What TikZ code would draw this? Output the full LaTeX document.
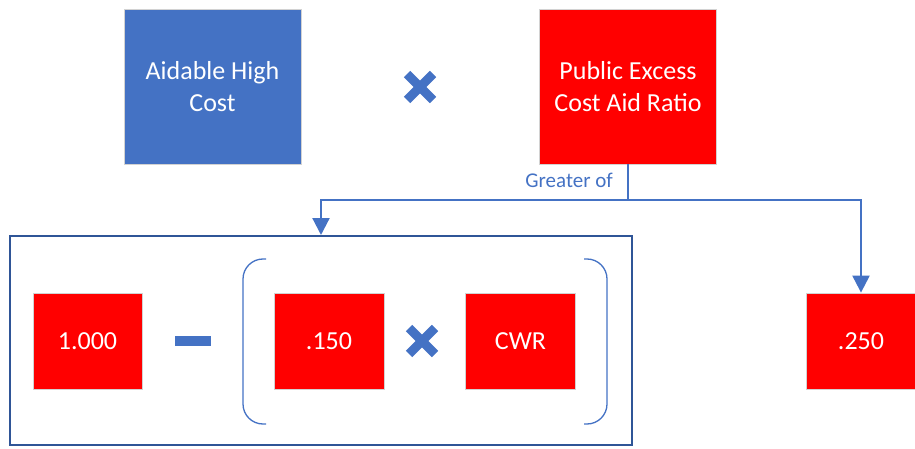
\documentclass[tikz,border=0pt]{standalone}
\usepackage{fontspec}
\setmainfont{Carlito}
\usetikzlibrary{arrows.meta}
\definecolor{obl}{HTML}{4472C4}
\definecolor{dbl}{HTML}{2F5597}
\definecolor{ored}{HTML}{FF0000}
\tikzset{
  redbox/.style={draw=gray!35, line width=0.8pt, fill=ored, text=white, inner sep=0pt, font=\fontsize{26}{32}\selectfont, align=center},
  bluebox/.style={redbox, fill=obl},
  conn/.style={draw=obl, line width=2.2pt, -{Triangle[width=17pt,length=17pt]}},
  stem/.style={draw=obl, line width=2.2pt},
  timesmark/.style={draw=obl, line width=9pt},
  bracket/.style={draw=obl, line width=1.3pt, rounded corners=20pt},
}
\begin{document}
\begin{tikzpicture}[x=1pt,y=-1pt]
\useasboundingbox (0,0) rectangle (915,449);
% top row
\node[bluebox, minimum width=177pt, minimum height=155pt] (ahc) at (212.5,86.5) {Aidable High\\Cost};
\node[redbox, minimum width=177pt, minimum height=155pt] (pecar) at (628,86.5) {Public Excess\\Cost Aid Ratio};
\begin{scope}[shift={(420,87)}]
  \draw[timesmark] (-13,-13) -- (13,13);
  \draw[timesmark] (-13,13) -- (13,-13);
\end{scope}
% lower group
\node[draw=dbl, line width=2pt, minimum width=622pt, minimum height=209pt, inner sep=0pt] (big) at (321,340.5) {};
\node[redbox, minimum width=109pt, minimum height=96pt] (one) at (87.5,341) {1.000};
\node[redbox, minimum width=110pt, minimum height=96pt] (p150) at (329,341) {.150};
\node[redbox, minimum width=110pt, minimum height=96pt] (cwr) at (520.5,341) {CWR};
\node[redbox, minimum width=109pt, minimum height=96pt] (p250) at (861,341) {.250};
\fill[obl] (175,336) rectangle (211,346);
\begin{scope}[shift={(422,341)}]
  \draw[timesmark] (-13,-13) -- (13,13);
  \draw[timesmark] (-13,13) -- (13,-13);
\end{scope}
\draw[bracket] (266,259) -- (243,259) -- (243,424) -- (266,424);
\draw[bracket] (584,259) -- (607,259) -- (607,424) -- (584,424);
% connectors
\coordinate (j) at (628,200);
\draw[stem] (pecar.south) -- (j);
\draw[conn] (j) -| (big.north);
\draw[conn] (j) -| (p250.north);
\node[anchor=east, text=obl, font=\fontsize{21}{25}\selectfont, inner sep=0pt] (gt) at (613,180) {Greater of};
\end{tikzpicture}
\end{document}
